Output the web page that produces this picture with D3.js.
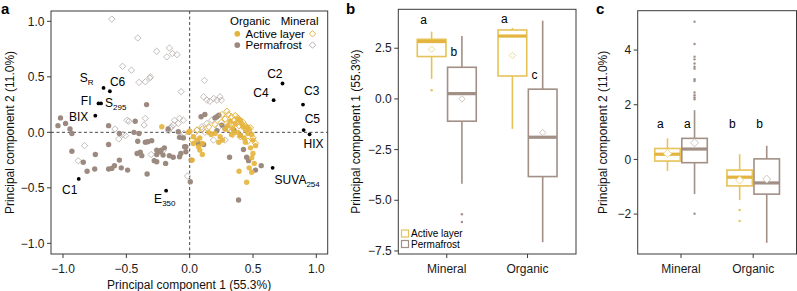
<!DOCTYPE html>
<html>
<head>
<meta charset="utf-8">
<script src="https://cdn.jsdelivr.net/npm/d3@7"></script>
<style>
  body { margin: 0; background: #fff; }
  svg { display: block; font-family: "Liberation Sans", Arial, sans-serif; }
  .frame { fill: none; stroke: #3a3a3a; stroke-width: 1; }
  .tick-line { stroke: #3a3a3a; stroke-width: 1; }
  .tick-label { font-size: 12px; fill: #1a1a1a; }
  .axis-title { font-size: 12px; fill: #111; }
  .panel-letter { font-size: 15px; font-weight: bold; fill: #000; }
  .zero-line { stroke: #333; stroke-dasharray: 3 2.5; stroke-width: 0.9; }
</style>
</head>
<body>
<svg id="chart" width="797" height="291"></svg>
<script>
// ---- data ----

// panel a, scores as [PC1, PC2]
var mineralPermafrost = [
  [-0.615, 1.02], [-0.41, 0.85], [-0.26, 0.73], [-0.16, 0.76], [-0.136, 0.71], [-0.18, 0.68],
  [-0.10, 0.70], [-0.53, 0.595], [-0.46, 0.56], [-0.315, 0.49], [-0.40, 0.45], [-0.35, 0.455],
  [-0.31, 0.50], [-0.067, 0.366], [0.117, 0.468], [0.11, 0.32], [0.136, 0.29], [0.16, 0.28],
  [0.19, 0.305], [0.215, 0.29], [0.24, 0.32], [0.25, 0.29], [-0.35, 0.126], [-0.494, 0.108],
  [-0.48, 0.10], [-0.12, 0.108], [-0.08, 0.126], [-0.05, 0.11], [-0.09, 0.08], [-0.128, 0.066],
  [-0.154, 0.036], [-0.167, 0.014], [-0.36, 0.066], [-0.83, -0.12], [-0.88, -0.256], [-0.59, 0.03],
  [-0.56, -0.06], [-0.53, -0.02], [-0.507, -0.03], [-0.304, -0.2], [-0.21, -0.165], [-0.146, 0.05],
  [-0.067, -0.04], [-0.046, -0.01], [-0.017, -0.394], [0.036, -0.01], [0.057, 0.02], [0.096, 0.05],
  [0.136, 0.08], [0.175, 0.11], [0.188, -0.07], [0.28, -0.07], [0.12, 0.0], [0.23, 0.05], [0.30, 0.04]
];
var organicPermafrost = [
  [-1.04, 0.06], [-1.02, 0.13], [-0.98, 0.08], [-0.945, 0.03], [-0.93, -0.01], [-0.93, -0.17],
  [-0.84, -0.27], [-0.81, -0.35], [-0.745, -0.2], [-0.75, -0.33], [-0.64, 0.06], [-0.64, -0.11],
  [-0.64, -0.33], [-0.615, -0.325], [-0.594, -0.30], [-0.555, -0.01], [-0.555, -0.25], [-0.54, -0.32],
  [-0.49, -0.34], [-0.43, 0.10], [-0.44, 0.0], [-0.40, -0.01], [-0.41, -0.08], [-0.415, -0.19],
  [-0.39, -0.18], [-0.378, -0.21], [-0.35, -0.09], [-0.33, -0.085], [-0.30, -0.075], [-0.336, -0.375],
  [-0.34, 0.25], [-0.26, -0.16], [-0.23, -0.175], [-0.26, -0.20], [-0.28, -0.255], [-0.26, -0.265],
  [-0.19, -0.28], [-0.16, -0.21], [-0.13, -0.225], [-0.08, -0.22], [-0.07, -0.19], [-0.21, -0.205],
  [-0.03, -0.175], [-0.03, -0.13], [-0.08, -0.045], [-0.09, 0.005], [-0.17, 0.03], [-0.225, -0.16],
  [-0.2, -0.14], [-0.05, -0.05], [-0.04, -0.13], [0.005, -0.445], [0.012, -0.25], [0.07, -0.10],
  [0.11, -0.11], [0.09, 0.14], [0.12, 0.16], [0.20, 0.13], [0.215, 0.14], [0.23, 0.155],
  [0.255, 0.065], [0.28, 0.035], [0.35, 0.02], [0.40, -0.025], [0.215, 0.015], [0.315, -0.225],
  [0.386, -0.61], [0.425, -0.155], [0.45, -0.225], [0.465, -0.255], [0.52, -0.34], [0.565, -0.30]
];
var mineralActive = [
  [0.255, 0.16], [0.294, 0.19], [0.307, 0.16], [0.33, 0.14], [0.35, 0.11], [0.37, 0.08],
  [0.39, 0.06], [0.32, 0.09], [0.28, 0.12], [0.36, 0.15], [0.42, 0.09], [0.44, 0.06],
  [0.47, 0.0], [0.50, -0.05], [0.52, -0.10], [0.40, -0.04], [0.30, 0.03], [0.25, 0.09],
  [0.20, 0.07], [0.15, 0.05], [0.06, 0.02], [0.02, -0.07], [0.10, 0.03], [0.46, -0.08],
  [0.48, 0.04], [0.38, 0.13], [0.34, -0.02]
];
var organicActive = [
  [-0.22, 0.05], [-0.01, 0.0], [0.0, 0.01], [0.03, -0.04], [0.06, -0.07], [0.08, -0.05],
  [0.03, -0.10], [0.07, -0.13], [0.10, -0.10], [0.08, -0.16], [0.10, -0.20], [0.02, -0.25],
  [0.15, 0.0], [0.17, -0.02], [0.20, -0.01], [0.24, -0.04], [0.23, -0.09], [0.26, -0.07],
  [0.28, 0.03], [0.30, 0.06], [0.32, 0.10], [0.34, 0.04], [0.36, 0.08], [0.38, 0.12],
  [0.40, 0.11], [0.41, 0.08], [0.42, 0.05], [0.44, 0.02], [0.46, -0.01], [0.38, 0.0],
  [0.40, -0.03], [0.43, -0.05], [0.45, 0.05], [0.47, 0.03], [0.49, -0.02], [0.50, -0.07],
  [0.52, -0.12], [0.50, -0.19], [0.49, -0.23], [0.51, -0.28], [0.47, -0.32], [0.49, -0.36],
  [0.39, -0.35], [0.45, -0.45], [0.35, 0.0], [0.33, -0.02], [0.44, -0.09], [0.48, -0.14]
];

// loadings (black dots with labels)
var loadingNames = ["SR", "C6", "FI", "S295", "BIX", "C1", "E350", "SUVA254", "HIX", "C5", "C3", "C4", "C2"];
var loadingValues = [
  [-0.68, 0.40], [-0.63, 0.37], [-0.72, 0.26], [-0.70, 0.26], [-0.745, 0.15], [-0.876, -0.42],
  [-0.186, -0.526], [0.655, -0.32], [0.947, -0.018], [0.90, 0.02], [0.895, 0.25], [0.663, 0.29], [0.733, 0.44]
];

var pcTicks = [-1.0, -0.5, 0.0, 0.5, 1.0];
var soilTypes = ["Mineral", "Organic"];
var layers = ["Active layer", "Permafrost"];

// panel b: PC1 box stats per soil type, [active layer, permafrost]
var pc1Stats = {
  Mineral: [
    { lo: 0.99, q1: 2.09, med: 2.83, q3: 2.94, hi: 3.32, mean: 2.45, out: [0.43] },
    { lo: -4.19, q1: -1.1, med: 0.26, q3: 1.56, hi: 3.1, mean: 0.0, out: [-5.69, -6.07] }
  ],
  Organic: [
    { lo: -1.48, q1: 1.13, med: 3.1, q3: 3.4, hi: 3.5, mean: 2.14, out: [] },
    { lo: -7.07, q1: -3.83, med: -1.89, q3: 0.48, hi: 3.86, mean: -1.66, out: [] }
  ]
};
var pc1Letters = { Mineral: [["a", 3.9], ["b", 2.3]], Organic: [["a", 3.95], ["c", 1.2]] };
var pc1Ticks = [2.5, 0.0, -2.5, -5.0, -7.5];

// panel c: PC2 box stats
var pc2Stats = {
  Mineral: [
    { lo: -0.42, q1: -0.06, med: 0.19, q3: 0.40, hi: 0.77, mean: 0.22, out: [] },
    { lo: -1.27, q1: -0.12, med: 0.38, q3: 0.77, hi: 1.8, mean: 0.61,
      out: [5.04, 4.22, 3.76, 3.66, 3.51, 3.39, 3.32, 2.93, 2.87, 2.45, 2.35, 2.27, 2.2, -1.99] }
  ],
  Organic: [
    { lo: -1.49, q1: -0.97, med: -0.65, q3: -0.39, hi: 0.19, mean: -0.76, out: [-1.85, -2.25] },
    { lo: -3.05, q1: -1.27, med: -0.86, q3: 0.02, hi: 0.5, mean: -0.72, out: [] }
  ]
};
var pc2Letters = { Mineral: [["a", 1.3], ["a", 1.3]], Organic: [["b", 1.3], ["b", 1.3]] };
var pc2Ticks = [4, 2, 0, -2];

// ---- styles ----
var COLORS = {
  active: "#E5B43C",
  perm: "#9C8A80",
  activeBox: "#E6C257",
  activeMedian: "#E3B540",
  permBox: "#A28F86",
  activeMean: "#EFDA95",
  permMean: "#CFC6C1",
  mineralPerm: "#BCB4B0",
  mineralActive: "#E3B33C"
};

var svg = d3.select("#chart");

var diamondPath = function(r) {
  return "M0," + (-r) + "L" + r + ",0L0," + r + "L" + (-r) + ",0Z";
};

var addSubLabel = function(g, x, y, name, anchor) {
  var m = name.match(/^([A-Z]+?)(R|\d{3})$/);
  var text = g.append("text")
    .attr("x", x)
    .attr("y", y)
    .attr("text-anchor", anchor)
    .style("font-size", "12px");
  if (m) {
    text.append("tspan").text(m[1]);
    text.append("tspan").attr("dy", 3).style("font-size", "8px").text(m[2]);
  } else {
    text.text(name);
  }
};

// frame + ticks; xTicks may be numbers or category names
var drawFrame = function(g, box, xScale, yScale, xTicks, yTicks, fmt) {
  g.append("rect").attr("class", "frame")
    .attr("x", box.left).attr("y", box.top)
    .attr("width", box.right - box.left).attr("height", box.bottom - box.top);

  xTicks.forEach(function(t) {
    var x = xScale(t);
    g.append("line").attr("class", "tick-line")
      .attr("x1", x).attr("x2", x).attr("y1", box.bottom).attr("y2", box.bottom + 4);
    g.append("text").attr("class", "tick-label")
      .attr("x", x).attr("y", box.bottom + 19).attr("text-anchor", "middle")
      .text(typeof t == "number" ? fmt(t).replace("-", "\u2212") : t);
  });
  yTicks.forEach(function(t) {
    var y = yScale(t);
    g.append("line").attr("class", "tick-line")
      .attr("x1", box.left - 4).attr("x2", box.left).attr("y1", y).attr("y2", y);
    g.append("text").attr("class", "tick-label")
      .attr("x", box.left - 6.5).attr("y", y + 4.2).attr("text-anchor", "end")
      .text(fmt(t).replace("-", "\u2212"));
  });
};

// ---- panel a: PCA biplot ----
var renderScatter = function() {
  var box = { left: 51, right: 327.7, top: 11, bottom: 254 };
  var xScale = d3.scaleLinear().domain([-1.095, 1.09]).range([box.left, box.right]);
  var yScale = d3.scaleLinear().domain([-1.096, 1.093]).range([box.bottom, box.top]);
  var g = svg.append("g").attr("class", "panel-a");

  g.append("line").attr("class", "zero-line")
    .attr("x1", xScale(0)).attr("x2", xScale(0)).attr("y1", box.top).attr("y2", box.bottom);
  g.append("line").attr("class", "zero-line")
    .attr("x1", box.left).attr("x2", box.right).attr("y1", yScale(0)).attr("y2", yScale(0));

  g.append("g").selectAll("path").data(mineralPermafrost).enter().append("path")
    .attr("d", diamondPath(3.2))
    .attr("transform", d => `translate(${xScale(d[0])},${yScale(d[1])})`)
    .attr("fill", "none").attr("stroke", COLORS.mineralPerm).attr("stroke-width", 0.9);

  g.append("g").selectAll("circle").data(organicPermafrost).enter().append("circle")
    .attr("cx", d => xScale(d[0])).attr("cy", d => yScale(d[1])).attr("r", 2.7)
    .attr("fill", COLORS.perm);

  g.append("g").selectAll("path").data(mineralActive).enter().append("path")
    .attr("d", diamondPath(3.2))
    .attr("transform", d => `translate(${xScale(d[0])},${yScale(d[1])})`)
    .attr("fill", "none").attr("stroke", COLORS.mineralActive).attr("stroke-width", 1);

  g.append("g").selectAll("circle").data(organicActive).enter().append("circle")
    .attr("cx", d => xScale(d[0])).attr("cy", d => yScale(d[1])).attr("r", 2.7)
    .attr("fill", COLORS.active).attr("fill-opacity", 0.9);

  // loadings
  var labelOffsets = {
    SR: [-10, -6, "end"], C6: [0, -5, "start"], FI: [-7, 1.5, "end"], S295: [4, 4, "start"],
    BIX: [-7, 5, "end"], C1: [-9, 15, "middle"], E350: [-12, 12, "start"], SUVA254: [2, 16, "start"],
    HIX: [4, 14, "middle"], C5: [1, -7.5, "start"], C3: [1, -10, "start"], C4: [-5, -3, "end"],
    C2: [0, -5, "end"]
  };
  loadingValues.forEach(function(v, i) {
    var name = loadingNames[i];
    var x = xScale(v[0]), y = yScale(v[1]);
    g.append("circle").attr("cx", x).attr("cy", y).attr("r", 1.9).attr("fill", "#000");
    var o = labelOffsets[name];
    addSubLabel(g, x + o[0], y + o[1], name, o[2]);
  });

  // legend
  var leg = g.append("g").style("font-size", "11.5px");
  leg.append("text").attr("x", 230).attr("y", 25).text("Organic");
  leg.append("text").attr("x", 318.5).attr("y", 25).attr("text-anchor", "end").text("Mineral");
  layers.forEach(function(name, i) {
    var y = 33.8 + i * 11.3;
    leg.append("circle").attr("cx", 237.3).attr("cy", y).attr("r", 2.9)
      .attr("fill", i == 0 ? COLORS.active : COLORS.perm);
    leg.append("text").attr("x", 245.5).attr("y", y + 4.1).text(name);
    leg.append("path").attr("d", diamondPath(3.2))
      .attr("transform", `translate(312.5,${y})`)
      .attr("fill", "none").attr("stroke", i == 0 ? COLORS.mineralActive : COLORS.mineralPerm)
      .attr("stroke-width", 1);
  });

  drawFrame(g, box, xScale, yScale, pcTicks, pcTicks, d3.format(".1f"));

  g.append("text").attr("class", "axis-title")
    .attr("x", xScale(0) - 0.5).attr("y", 289).attr("text-anchor", "middle")
    .text("Principal component 1 (55.3%)");
  g.append("text").attr("class", "axis-title")
    .attr("transform", `translate(13.5,${(box.top + box.bottom) / 2}) rotate(-90)`)
    .attr("text-anchor", "middle").text("Principal component 2 (11.0%)");
  g.append("text").attr("class", "panel-letter").attr("x", 1).attr("y", 14).text("a");
};

// ---- panels b & c: boxplots ----
var renderBoxes = function(config) {
  var box = config.box;
  var xScale = d3.scalePoint().domain(soilTypes).range([box.left, box.right]).padding(0.6);
  var yScale = d3.scaleLinear().domain(config.yDomain).range([box.bottom, box.top]);
  var step = xScale.step();
  var half = step * 0.1875;
  var g = svg.append("g");

  soilTypes.forEach(function(soil) {
    config.stats[soil].forEach(function(s, i) {
      var cx = xScale(soil) + (i == 0 ? -half : half);
      var stroke = i == 0 ? COLORS.activeBox : COLORS.permBox;
      var medStroke = i == 0 ? COLORS.activeMedian : COLORS.permBox;

      g.append("line").attr("x1", cx).attr("x2", cx)
        .attr("y1", yScale(s.hi)).attr("y2", yScale(s.q3))
        .attr("stroke", stroke).attr("stroke-width", 1.6);
      g.append("line").attr("x1", cx).attr("x2", cx)
        .attr("y1", yScale(s.q1)).attr("y2", yScale(s.lo))
        .attr("stroke", stroke).attr("stroke-width", 1.6);
      g.append("rect")
        .attr("x", cx - half + 0.8).attr("width", 2 * half - 1.6)
        .attr("y", yScale(s.q3)).attr("height", yScale(s.q1) - yScale(s.q3))
        .attr("fill", "#fff").attr("stroke", stroke).attr("stroke-width", 1.6);
      g.append("line").attr("x1", cx - half + 0.8).attr("x2", cx + half - 0.8)
        .attr("y1", yScale(s.med)).attr("y2", yScale(s.med))
        .attr("stroke", medStroke).attr("stroke-width", 3.2);
      s.out.forEach(function(o) {
        g.append("circle").attr("cx", cx).attr("cy", yScale(o)).attr("r", 1.2)
          .attr("fill", stroke);
      });
      g.append("path").attr("d", diamondPath(config.meanSize))
        .attr("transform", `translate(${cx},${yScale(s.mean)})`)
        .attr("fill", "#fff").attr("stroke", i == 0 ? COLORS.activeMean : COLORS.permMean)
        .attr("stroke-width", 1);
    });
    config.letters[soil].forEach(function(l, i) {
      var cx = xScale(soil) + (i == 0 ? -half : half) - step * 0.1;
      g.append("text").attr("x", cx).attr("y", yScale(l[1]) + 4)
        .attr("text-anchor", "middle").style("font-size", "12px").text(l[0]);
    });
  });

  drawFrame(g, box, xScale, yScale, soilTypes, config.yTicks, config.fmt);

  g.append("text").attr("class", "axis-title")
    .attr("transform", `translate(${config.titleX},${(box.top + box.bottom) / 2}) rotate(-90)`)
    .attr("text-anchor", "middle").text(config.title);
  g.append("text").attr("class", "panel-letter")
    .attr("x", config.letterX).attr("y", 14).text(config.letter);

  if (config.legend) {
    var leg = g.append("g").style("font-size", "10px");
    layers.forEach(function(name, i) {
      var y = 233.5 + i * 10.5;
      leg.append("rect").attr("x", 401.5).attr("y", y - 3.5).attr("width", 7).attr("height", 7)
        .attr("fill", "#fff").attr("stroke", i == 0 ? COLORS.activeBox : COLORS.permBox)
        .attr("stroke-width", 1.2);
      leg.append("text").attr("x", 411).attr("y", y + 3.5).text(name);
    });
  }
};

renderScatter();

renderBoxes({
  box: { left: 398.3, right: 576, top: 9.3, bottom: 254 },
  yDomain: [-7.65, 4.42],
  stats: pc1Stats,
  letters: pc1Letters,
  yTicks: pc1Ticks,
  fmt: d3.format(".1f"),
  meanSize: 3.2,
  title: "Principal component 1 (55.3%)",
  titleX: 360,
  letter: "b",
  letterX: 346,
  legend: true
});

renderBoxes({
  box: { left: 637.7, right: 796.5, top: 10.7, bottom: 254 },
  yDomain: [-3.46, 5.44],
  stats: pc2Stats,
  letters: pc2Letters,
  yTicks: pc2Ticks,
  fmt: d3.format("d"),
  meanSize: 4,
  title: "Principal component 2 (11.0%)",
  titleX: 606.5,
  letter: "c",
  letterX: 596,
  legend: false
});
</script>
</body>
</html>
